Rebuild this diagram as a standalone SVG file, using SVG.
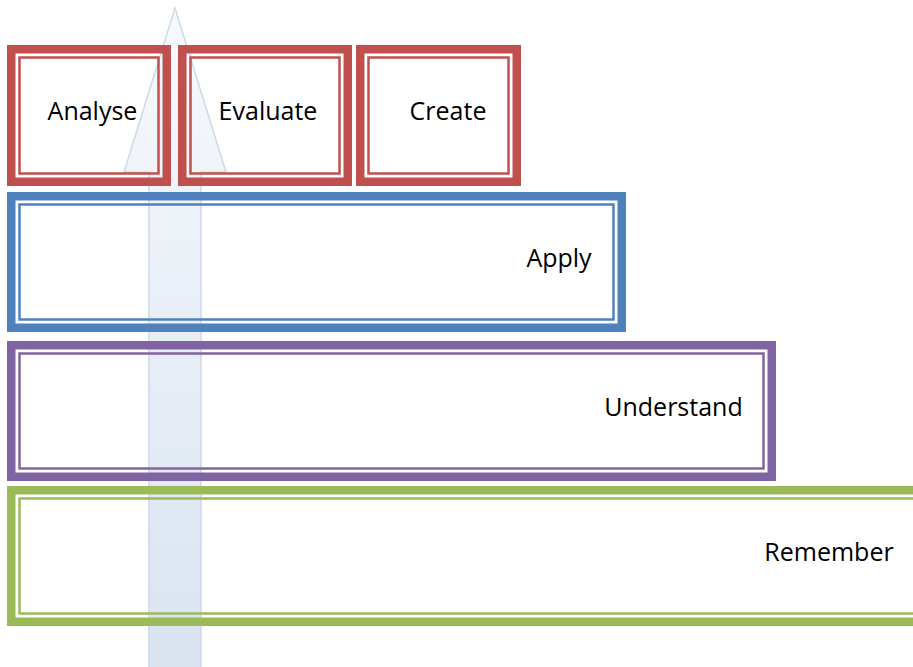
<svg xmlns="http://www.w3.org/2000/svg" width="913" height="667" viewBox="0 0 913 667">
<defs>
<style>
.outer{fill:none;stroke-width:8.5}
.inner{fill:none;stroke-width:2.5}
.red{stroke:#c0504d}
.blue{stroke:#4f81bd}
.purple{stroke:#8064a2}
.green{stroke:#9bbb59}
.lbl{font-family:"Open Sans","Liberation Sans",sans-serif;font-size:25px;fill:#000000;text-anchor:middle}
</style>
<linearGradient id="arrowFill" gradientUnits="userSpaceOnUse" x1="0" y1="8" x2="0" y2="667">
<stop offset="0" stop-color="#f7f9fd"/>
<stop offset="0.3" stop-color="#eef3f9"/>
<stop offset="1" stop-color="#d9e3f0"/>
</linearGradient>
</defs>
<rect width="913" height="667" fill="#ffffff"/>
<g id="connectors">
<polygon points="149,672 149,172 124,172 175,8 226,172 201,172 201,672" fill="url(#arrowFill)" stroke="#cbd9ec" stroke-width="1.5"/>
</g>
<g id="analyse">
<rect class="outer red" x="11.25" y="49.25" width="155.5" height="132.5"/>
<rect class="inner red" x="19.5" y="57.5" width="139" height="116"/>
<text class="lbl" x="92.5" y="120">Analyse</text>
</g>
<g id="evaluate">
<rect class="outer red" x="182.25" y="49.25" width="165.5" height="132.5"/>
<rect class="inner red" x="190.5" y="57.5" width="149" height="116"/>
<text class="lbl" x="268" y="120">Evaluate</text>
</g>
<g id="create">
<rect class="outer red" x="360.25" y="49.25" width="156.5" height="132.5"/>
<rect class="inner red" x="368.5" y="57.5" width="140" height="116"/>
<text class="lbl" x="448" y="120">Create</text>
</g>
<g id="apply">
<rect class="outer blue" x="11.25" y="196.25" width="610.5" height="131.5"/>
<rect class="inner blue" x="19.5" y="204.5" width="594" height="115"/>
<text class="lbl" x="559" y="267">Apply</text>
</g>
<g id="understand">
<rect class="outer purple" x="11.25" y="345.25" width="760.5" height="131.5"/>
<rect class="inner purple" x="19.5" y="353.5" width="744" height="115"/>
<text class="lbl" x="673.5" y="416">Understand</text>
</g>
<g id="remember">
<rect class="outer green" x="11.25" y="490.25" width="920" height="131.5"/>
<rect class="inner green" x="19.5" y="498.5" width="910" height="115"/>
<text class="lbl" x="829" y="561">Remember</text>
</g>
</svg>
